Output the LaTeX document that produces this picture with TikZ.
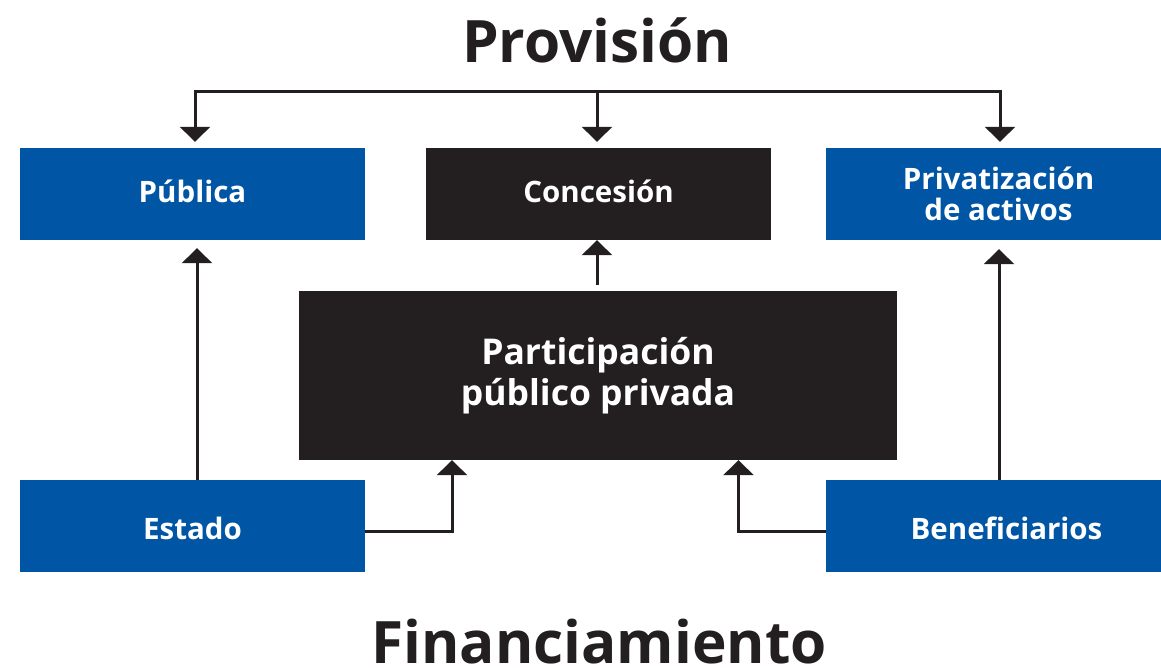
\documentclass[tikz,border=0pt]{standalone}
\usepackage{fontspec}
\setmainfont{Open Sans}
\usetikzlibrary{arrows.meta,calc}
\definecolor{azul}{HTML}{0055A5}
\definecolor{negro}{HTML}{231F20}
\tikzset{
  caja/.style={minimum width=345pt,minimum height=92pt,inner sep=0pt,
    text=white,align=center,font=\fontsize{29.5}{31}\selectfont\bfseries},
  arriba/.style={text height=22pt,text depth=5pt},
  abajo/.style={text height=30pt,text depth=4pt},
  flecha/.style={draw=negro,line width=3pt,-{Triangle[width=30pt,length=15pt]}},
  titulo/.style={anchor=base,text=negro,font=\fontsize{58.5}{60}\selectfont\bfseries}
}
\begin{document}
\begin{tikzpicture}[x=1pt,y=-1pt,line join=miter]
    \useasboundingbox (0,0) rectangle (1161,668);
    % cajas
    \node[caja,arriba,fill=azul]  (Pub) at (192.5,194) {Pública};
    \node[caja,arriba,fill=negro] (Con) at (598.5,194) {Concesión};
    \node[caja,fill=azul]  (Pri) at (998.5,194) {Privatización\\de activos};
    \node[caja,fill=negro,minimum width=598pt,minimum height=169pt,
      font=\fontsize{35.5}{41}\selectfont\bfseries] (PPP) at (598,375.5) {Participación\\público privada};
    \node[caja,abajo,fill=azul]  (Est) at (192.5,526) {Estado};
    \node[caja,abajo,fill=azul,minimum width=361pt] (Ben) at (1006.5,526) {Beneficiarios};
    % titulos
    \node[titulo] (Prov) at (597,63) {Provisión};
    \node[titulo] (Fin)  at (599,663) {Financiamiento};
    % provision
    \coordinate (T) at (597,92);
    \draw[flecha,shorten >=6pt] (T) -| ($(Pub.north)+(2.5,0)$);
    \draw[flecha,shorten >=6pt] (T) -- (T|-Con.north);
    \draw[flecha,shorten >=6pt] (T) -| ($(Pri.north)+(1.5,0)$);
    \draw[flecha] ($(PPP.north)+(-1,-6)$) -- ($(Con.south)+(-1.5,0)$);
    % financiamiento
    \draw[flecha,shorten >=8pt] ($(Est.north)+(4.5,0)$) -- ($(Pub.south)+(4.5,0)$);
    \draw[flecha,shorten >=9pt] ($(Pri.south|-Ben.north)+(0.5,0)$) -- ($(Pri.south)+(0.5,0)$);
    \coordinate (E) at (452,531.5);
    \coordinate (B) at (738.5,531.5);
    \draw[flecha] (Est.east|-E) -| (E|-PPP.south);
    \draw[flecha] (Ben.west|-B) -| (B|-PPP.south);
  \end{tikzpicture}
\end{document}
